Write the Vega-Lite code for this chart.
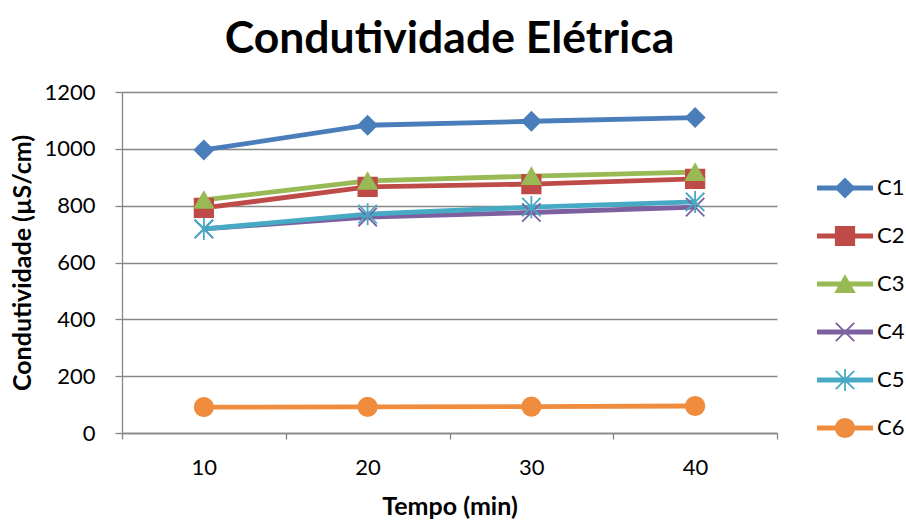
{
  "$schema": "https://vega.github.io/schema/vega-lite/v6.json",
  "background": "white",
  "padding": {"left": 10, "top": 16, "right": 4, "bottom": 4},
  "config": {
    "font": "Lato",
    "view": {"stroke": null},
    "axis": {
      "labelFont": "Lato",
      "labelFontSize": 22,
      "labelColor": "#000000",
      "titleFont": "Lato",
      "titleFontSize": 25,
      "titleFontWeight": "bold",
      "titleColor": "#000000",
      "domainColor": "#868686",
      "domainWidth": 1.3,
      "tickColor": "#868686",
      "tickWidth": 1.3,
      "gridColor": "#868686",
      "gridWidth": 1.3
    }
  },
  "datasets": {
    "medidas": [
      {"t": 10, "serie": "C1", "v": 996},
      {"t": 20, "serie": "C1", "v": 1083},
      {"t": 30, "serie": "C1", "v": 1097},
      {"t": 40, "serie": "C1", "v": 1110},
      {"t": 10, "serie": "C2", "v": 792},
      {"t": 20, "serie": "C2", "v": 866},
      {"t": 30, "serie": "C2", "v": 876},
      {"t": 40, "serie": "C2", "v": 894},
      {"t": 10, "serie": "C3", "v": 820},
      {"t": 20, "serie": "C3", "v": 887},
      {"t": 30, "serie": "C3", "v": 904},
      {"t": 40, "serie": "C3", "v": 918},
      {"t": 10, "serie": "C4", "v": 718},
      {"t": 20, "serie": "C4", "v": 760},
      {"t": 30, "serie": "C4", "v": 776},
      {"t": 40, "serie": "C4", "v": 795},
      {"t": 10, "serie": "C5", "v": 718},
      {"t": 20, "serie": "C5", "v": 770},
      {"t": 30, "serie": "C5", "v": 795},
      {"t": 40, "serie": "C5", "v": 813},
      {"t": 10, "serie": "C6", "v": 91},
      {"t": 20, "serie": "C6", "v": 92},
      {"t": 30, "serie": "C6", "v": 93},
      {"t": 40, "serie": "C6", "v": 95}
    ]
  },
  "bounds": "flush",
  "spacing": 40,
  "hconcat": [
    {
      "width": 655,
      "height": 341,
      "title": {
        "text": "Condutividade Elétrica",
        "font": "Lato",
        "fontSize": 44.5,
        "fontWeight": "bold",
        "color": "#000000",
        "anchor": "middle",
        "offset": 19
      },
      "data": {"name": "medidas"},
      "layer": [
        {
          "mark": {"type": "line", "strokeWidth": 4.8},
          "encoding": {
            "x": {
              "field": "t",
              "type": "quantitative",
              "scale": {"domain": [5, 45], "nice": false, "zero": false},
              "axis": {
                "orient": "bottom",
                "values": [5, 15, 25, 35, 45],
                "labels": false,
                "tickSize": 6,
                "grid": false,
                "title": null
              }
            },
            "y": {
              "field": "v",
              "type": "quantitative",
              "scale": {"domain": [0, 1200], "nice": false},
              "axis": {
                "values": [0, 200, 400, 600, 800, 1000, 1200],
                "format": "d",
                "tickSize": 7,
                "labelPadding": 20,
                "grid": true,
                "title": "Condutividade (µS/cm)",
                "titlePadding": 8
              }
            },
            "color": {
              "field": "serie",
              "type": "nominal",
              "scale": {
                "domain": ["C1", "C2", "C3", "C4", "C5", "C6"],
                "range": ["#4A7EBB", "#BE4B48", "#98B954", "#7D60A0", "#46AAC5", "#F08C3E"]
              },
              "legend": null
            }
          }
        },
        {
          "mark": {"type": "point", "filled": true, "opacity": 1, "strokeWidth": 1.8, "size": 340},
          "encoding": {
            "x": {
              "field": "t",
              "type": "quantitative",
              "axis": {
                "orient": "bottom",
                "values": [10, 20, 30, 40],
                "ticks": false,
                "tickSize": 0,
                "domain": false,
                "grid": false,
                "labelPadding": 24,
                "title": "Tempo (min)",
                "titlePadding": 16
              }
            },
            "y": {"field": "v", "type": "quantitative"},
            "color": {"field": "serie", "type": "nominal", "legend": null},
            "stroke": {
              "field": "serie",
              "type": "nominal",
              "scale": {
                "domain": ["C1", "C2", "C3", "C4", "C5", "C6"],
                "range": ["#4A7EBB", "#BE4B48", "#98B954", "#7D60A0", "#46AAC5", "#F08C3E"]
              },
              "legend": null
            },
            "shape": {
              "field": "serie",
              "type": "nominal",
              "scale": {
                "domain": ["C1", "C2", "C3", "C4", "C5", "C6"],
                "range": [
                  "diamond",
                  "square",
                  "triangle-up",
                  "M-1,-1L1,1M-1,1L1,-1",
                  "M-1,-1L1,1M-1,1L1,-1M0,-1.2L0,1.2",
                  "circle"
                ]
              },
              "legend": null
            }
          }
        }
      ],
      "resolve": {"axis": {"x": "independent"}}
    },
    {
      "width": 56,
      "height": 336,
      "data": {"name": "medidas"},
      "transform": [{"filter": "datum.t === 10"}],
      "encoding": {
        "y": {
          "field": "serie",
          "type": "nominal",
          "scale": {"type": "point", "padding": 1, "align": 1, "domain": ["C1", "C2", "C3", "C4", "C5", "C6"]},
          "axis": null
        },
        "color": {
          "field": "serie",
          "type": "nominal",
          "scale": {
            "domain": ["C1", "C2", "C3", "C4", "C5", "C6"],
            "range": ["#4A7EBB", "#BE4B48", "#98B954", "#7D60A0", "#46AAC5", "#F08C3E"]
          },
          "legend": null
        }
      },
      "layer": [
        {
          "mark": {"type": "rule", "strokeWidth": 4.8},
          "encoding": {
            "x": {"datum": 0, "type": "quantitative", "scale": {"domain": [0, 1]}, "axis": null},
            "x2": {"datum": 1}
          }
        },
        {
          "mark": {"type": "point", "filled": true, "opacity": 1, "strokeWidth": 1.8, "size": 340},
          "encoding": {
            "x": {"datum": 0.5, "type": "quantitative"},
            "stroke": {
              "field": "serie",
              "type": "nominal",
              "scale": {
                "domain": ["C1", "C2", "C3", "C4", "C5", "C6"],
                "range": ["#4A7EBB", "#BE4B48", "#98B954", "#7D60A0", "#46AAC5", "#F08C3E"]
              },
              "legend": null
            },
            "shape": {
              "field": "serie",
              "type": "nominal",
              "scale": {
                "domain": ["C1", "C2", "C3", "C4", "C5", "C6"],
                "range": [
                  "diamond",
                  "square",
                  "triangle-up",
                  "M-1,-1L1,1M-1,1L1,-1",
                  "M-1,-1L1,1M-1,1L1,-1M0,-1.2L0,1.2",
                  "circle"
                ]
              },
              "legend": null
            }
          }
        },
        {
          "mark": {"type": "text", "align": "left", "baseline": "middle", "dx": 4, "fontSize": 22, "font": "Lato", "color": "#000000"},
          "encoding": {
            "x": {"datum": 1, "type": "quantitative"},
            "text": {"field": "serie"},
            "color": {"value": "#000000"}
          }
        }
      ]
    }
  ]
}
